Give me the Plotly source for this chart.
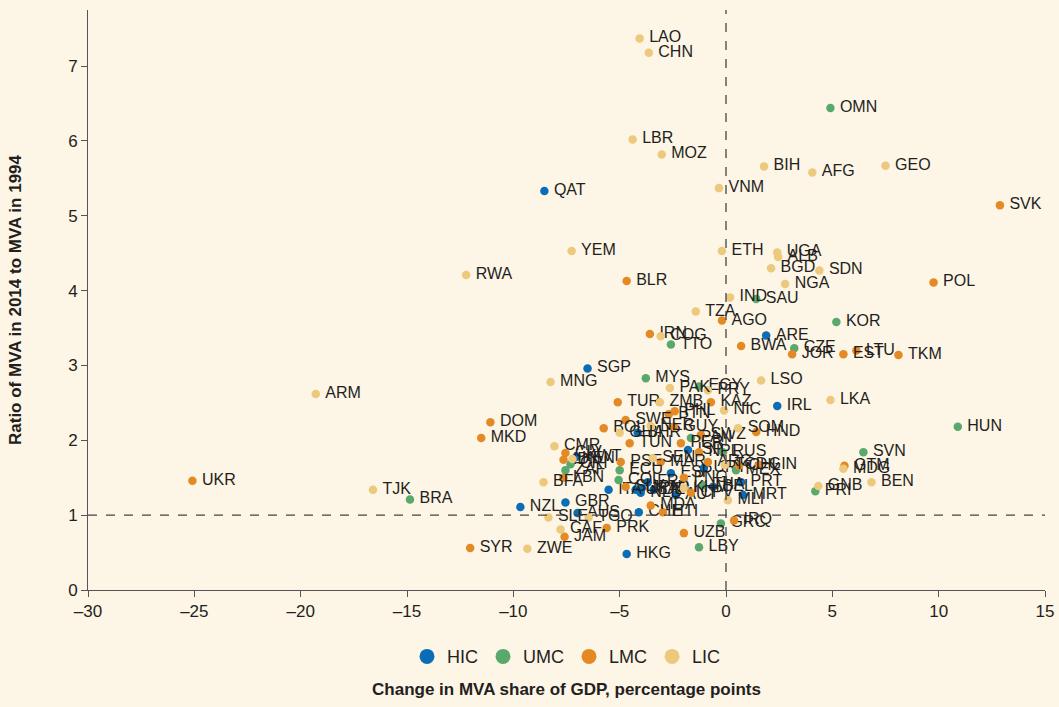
import plotly.graph_objects as go

# country code, change in MVA share of GDP (pp), ratio MVA 2014/1994, income group
codes = ["LAO", "CHN", "OMN", "LBR", "MOZ", "BIH", "AFG", "GEO", "QAT", "VNM",
         "SVK", "YEM", "ETH", "UGA", "ALB", "BGD", "SDN", "RWA", "BLR", "POL",
         "NGA", "IND", "SAU", "TZA", "AGO", "ARE", "KOR", "IRN", "COG", "TTO",
         "BWA", "CZE", "JOR", "EST", "LTU", "TKM", "ARM", "SGP", "MNG", "MYS",
         "PAK", "LSO", "EGY", "PRY", "KAZ", "IRL", "LKA", "NIC", "HUN", "SOM",
         "HND", "UKR", "TJK", "BRA", "NZL", "DOM", "MKD", "SVN", "GTM", "MDG",
         "GNB", "PRI", "BEN", "IRQ", "GRC", "UZB", "LBY", "HKG", "SYR", "ZWE",
         "JAM", "CAF", "SLE", "TGO", "PRK", "GBR", "AUS", "BFA", "ITA", "USA",
         "MDA", "HTI", "TUR", "ZMB", "BOL", "GHA", "SWE", "PHL", "BTN", "NER",
         "GUY", "BHR", "TUN", "PER", "ISR", "PAN", "SWZ", "NPL", "CMR", "CIV",
         "IDN", "KEN", "KWT", "ZAF", "CRI", "LBN", "ECU", "PSE", "COL", "SLV",
         "JPN", "DEU", "FRA", "SEN", "MAR", "ESP", "PNG", "KHM", "CPV", "AUT",
         "URY", "ARG", "TCD", "BEL", "THA", "MLI", "MRT", "PRT", "MEX", "CHL",
         "GIN", "RUS", "CHE", "NLD"]
chg = [-4.06, -3.63, 4.91, -4.39, -3.02, 1.79, 4.06, 7.50, -8.54, -0.33,
       12.88, -7.26, -0.19, 2.41, 2.45, 2.12, 4.39, -12.22, -4.67, 9.76,
       2.78, 0.19, 1.42, -1.42, -0.19, 1.89, 5.19, -3.58, -3.07, -2.59,
       0.71, 3.21, 3.11, 5.52, 6.13, 8.11, -19.29, -6.51, -8.25, -3.77,
       -2.64, 1.65, -1.27, -0.85, -0.71, 2.41, 4.91, -0.09, 10.90, 0.57,
       1.42, -25.09, -16.60, -14.86, -9.67, -11.08, -11.51, 6.46, 5.57, 5.52,
       4.34, 4.20, 6.84, 0.38, -0.24, -1.98, -1.27, -4.67, -12.03, -9.34,
       -7.59, -7.78, -8.35, -6.46, -5.61, -7.55, -6.98, -8.58, -5.52, -4.25,
       -3.54, -2.97, -5.09, -3.11, -5.75, -5.00, -4.72, -2.41, -2.69, -3.54,
       -2.45, -4.15, -4.53, -2.12, -1.79, -1.65, -1.18, -1.27, -8.07, -7.55,
       -7.64, -7.22, -7.03, -7.55, -7.31, -7.64, -5.00, -4.95, -5.05, -4.72,
       -3.96, -3.40, -3.68, -3.44, -3.07, -2.59, -1.98, -1.98, -1.65, -2.36,
       -1.04, -0.85, -0.05, -0.61, -1.08, 0.09, 0.80, 0.71, 0.47, 0.61,
       1.56, -0.14, -4.10, -4.01]
ratio = [7.37, 7.18, 6.44, 6.02, 5.82, 5.66, 5.58, 5.67, 5.33, 5.37,
         5.14, 4.53, 4.53, 4.51, 4.45, 4.30, 4.27, 4.21, 4.13, 4.11,
         4.09, 3.91, 3.89, 3.72, 3.60, 3.40, 3.58, 3.42, 3.39, 3.28,
         3.26, 3.23, 3.15, 3.15, 3.20, 3.14, 2.62, 2.96, 2.78, 2.83,
         2.70, 2.80, 2.72, 2.67, 2.51, 2.46, 2.54, 2.40, 2.18, 2.16,
         2.11, 1.46, 1.34, 1.21, 1.11, 2.24, 2.03, 1.84, 1.66, 1.62,
         1.39, 1.32, 1.44, 0.93, 0.89, 0.76, 0.57, 0.48, 0.56, 0.55,
         0.71, 0.81, 0.97, 0.97, 0.83, 1.17, 1.03, 1.44, 1.34, 1.34,
         1.13, 1.04, 2.51, 2.51, 2.16, 2.10, 2.27, 2.39, 2.35, 2.19,
         2.18, 2.10, 1.96, 1.96, 1.87, 2.03, 2.07, 1.84, 1.92, 1.83,
         1.74, 1.75, 1.78, 1.60, 1.68, 1.50, 1.60, 1.71, 1.47, 1.38,
         1.36, 1.34, 1.44, 1.76, 1.71, 1.56, 1.50, 1.36, 1.30, 1.27,
         1.63, 1.71, 1.67, 1.38, 1.40, 1.20, 1.27, 1.44, 1.60, 1.66,
         1.67, 1.84, 1.04, 1.30]
group = ["LIC", "LIC", "UMC", "LIC", "LIC", "LIC", "LIC", "LIC", "HIC", "LIC",
         "LMC", "LIC", "LIC", "LIC", "LIC", "LIC", "LIC", "LIC", "LMC", "LMC",
         "LIC", "LIC", "UMC", "LIC", "LMC", "HIC", "UMC", "LMC", "LIC", "UMC",
         "LMC", "UMC", "LMC", "LMC", "LMC", "LMC", "LIC", "HIC", "LIC", "UMC",
         "LIC", "LIC", "UMC", "LIC", "LMC", "HIC", "LIC", "LIC", "UMC", "LIC",
         "LMC", "LMC", "LIC", "UMC", "HIC", "LMC", "LMC", "UMC", "LMC", "LIC",
         "LIC", "UMC", "LIC", "LMC", "UMC", "LMC", "UMC", "HIC", "LMC", "LIC",
         "LMC", "LIC", "LIC", "LIC", "LMC", "HIC", "HIC", "LIC", "HIC", "HIC",
         "LMC", "LMC", "LMC", "LIC", "LMC", "LIC", "LMC", "LMC", "LMC", "LIC",
         "LMC", "HIC", "LMC", "LMC", "HIC", "UMC", "LMC", "LMC", "LIC", "LMC",
         "LMC", "LIC", "HIC", "UMC", "UMC", "LMC", "UMC", "LMC", "UMC", "LMC",
         "HIC", "HIC", "HIC", "LIC", "LMC", "HIC", "LMC", "LIC", "LMC", "HIC",
         "HIC", "LMC", "LIC", "HIC", "UMC", "LIC", "HIC", "HIC", "UMC", "LMC",
         "LMC", "UMC", "HIC", "HIC"]

groups = ["HIC", "UMC", "LMC", "LIC"]
colors = {"HIC": "#0a6db5", "UMC": "#5aa96c", "LMC": "#e48a25", "LIC": "#ecc97c"}
xticks = [-30, -25, -20, -15, -10, -5, 0, 5, 10, 15]
yticks = [0, 1, 2, 3, 4, 5, 6, 7]

ink = "#231f20"
bg = "#fdf5e6"
font = "Liberation Sans, Arial, sans-serif"

fig = go.Figure()

for g in groups:
    idx = [i for i, gg in enumerate(group) if gg == g]
    fig.add_trace(go.Scatter(
        x=[chg[i] for i in idx], y=[ratio[i] for i in idx],
        text=["\u2009" + codes[i] for i in idx],
        mode="markers+text", textposition="middle right",
        textfont=dict(size=16, color=ink, family=font),
        marker=dict(size=8.5, color=colors[g]),
        showlegend=False, cliponaxis=False, hoverinfo="text+x+y"))

# legend entries with larger dots
for g in groups:
    fig.add_trace(go.Scatter(x=[None], y=[None], mode="markers", name=g,
                             marker=dict(size=15, color=colors[g])))

fig.add_shape(type="line", x0=0, x1=0, y0=0, y1=7.75, xref="x", yref="y",
              line=dict(color="#444", width=1.3, dash="dash"))
fig.add_shape(type="line", x0=-30, x1=15, y0=1, y1=1, xref="x", yref="y",
              line=dict(color="#444", width=1.3, dash="dash"))

fig.update_layout(
    width=1059, height=707,
    paper_bgcolor=bg, plot_bgcolor=bg,
    margin=dict(l=88, r=14, t=10, b=117),
    font=dict(family=font, color=ink, size=17),
    legend=dict(orientation="h", x=0.5, xanchor="center", y=-0.115, yanchor="middle",
                font=dict(size=18, color=ink), itemwidth=30, tracegroupgap=0,
                bgcolor="rgba(0,0,0,0)"),
    xaxis=dict(range=[-30, 15], tickvals=xticks,
               ticktext=[("\u2013" + str(-v)) if v < 0 else str(v) for v in xticks],
               showgrid=False, zeroline=False, showline=True, linecolor="#555",
               linewidth=1, ticks="outside", ticklen=6, tickcolor="#555",
               tickfont=dict(size=17, color=ink), automargin=False,
               title=dict(text="<b>Change in MVA share of GDP, percentage points</b>",
                          font=dict(size=17, color=ink), standoff=62)),
    yaxis=dict(range=[0, 7.75], tickvals=yticks, showgrid=False, zeroline=False,
               showline=True, linecolor="#555", linewidth=1, ticks="outside",
               ticklen=6, tickcolor="#555", tickfont=dict(size=17, color=ink),
               automargin=False,
               title=dict(text="<b>Ratio of MVA in 2014 to MVA in 1994</b>",
                          font=dict(size=17, color=ink), standoff=42)),
)

fig.write_html("out.html", config={"displayModeBar": False},
               post_script="document.body.style.margin='0';"
                           "document.body.style.background='" + bg + "';"
                           "document.documentElement.style.overflow='hidden';")
